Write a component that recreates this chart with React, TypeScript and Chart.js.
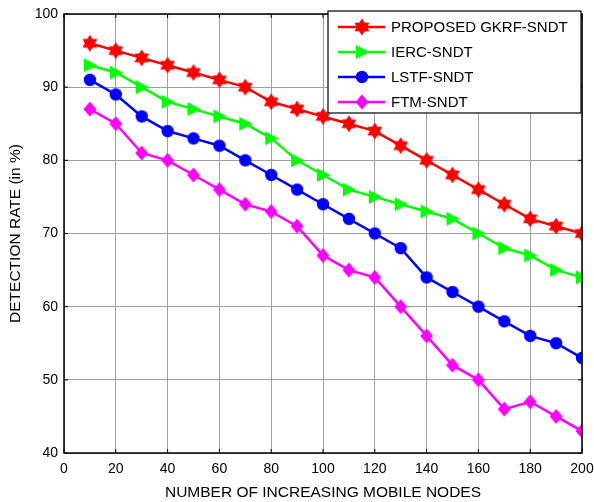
import React, { useEffect, useRef } from "react";
import { Chart, registerables } from "chart.js";

Chart.register(...registerables);

const nodes = [10, 20, 30, 40, 50, 60, 70, 80, 90, 100, 110, 120, 130, 140, 150, 160, 170, 180, 190, 200];
const gkrf = [96, 95, 94, 93, 92, 91, 90, 88, 87, 86, 85, 84, 82, 80, 78, 76, 74, 72, 71, 70];
const ierc = [93, 92, 90, 88, 87, 86, 85, 83, 80, 78, 76, 75, 74, 73, 72, 70, 68, 67, 65, 64];
const lstf = [91, 89, 86, 84, 83, 82, 80, 78, 76, 74, 72, 70, 68, 64, 62, 60, 58, 56, 55, 53];
const ftm = [87, 85, 81, 80, 78, 76, 74, 73, 71, 67, 65, 64, 60, 56, 52, 50, 46, 47, 45, 43];
const seriesNames = ["PROPOSED GKRF-SNDT", "IERC-SNDT", "LSTF-SNDT", "FTM-SNDT"];
const seriesColors = ["#ff0000", "#00ff00", "#0000ff", "#ff00ff"];
const seriesShapes = ["hexagram", "triangle", "circle", "diamond"];
const xTitle = "NUMBER OF INCREASING MOBILE NODES";
const yTitle = "DETECTION RATE (in %)";

const FONT = "'Liberation Sans', Arial, sans-serif";

function makeMarker(shape: string, color: string): HTMLCanvasElement {
  const s = 18;
  const c = document.createElement("canvas");
  c.width = s;
  c.height = s;
  const ctx = c.getContext("2d")!;
  ctx.fillStyle = color;
  const cx = s / 2, cy = s / 2;
  ctx.beginPath();
  if (shape === "hexagram") {
    const R = 8.5, r = R / Math.sqrt(3) * 1.05;
    for (let i = 0; i < 12; i++) {
      const a = -Math.PI / 2 + (i * Math.PI) / 6;
      const rr = i % 2 === 0 ? R : r;
      const px = cx + rr * Math.cos(a), py = cy + rr * Math.sin(a);
      if (i === 0) ctx.moveTo(px, py); else ctx.lineTo(px, py);
    }
  } else if (shape === "triangle") {
    ctx.moveTo(cx - 6, cy - 7);
    ctx.lineTo(cx + 7.5, cy);
    ctx.lineTo(cx - 6, cy + 7);
  } else if (shape === "circle") {
    ctx.arc(cx, cy, 6.2, 0, Math.PI * 2);
  } else {
    ctx.moveTo(cx, cy - 7.5);
    ctx.lineTo(cx + 6.5, cy);
    ctx.lineTo(cx, cy + 7.5);
    ctx.lineTo(cx - 6.5, cy);
  }
  ctx.closePath();
  ctx.fill();
  return c;
}

export default function App() {
  const ref = useRef<HTMLCanvasElement>(null);
  useEffect(() => {
    document.body.style.margin = "0";
    const markers = seriesShapes.map((s, i) => makeMarker(s, seriesColors[i]));
    const values = [gkrf, ierc, lstf, ftm];
    const datasets = values.map((vals, i) => ({
      label: seriesNames[i],
      data: vals.map((v, j) => ({ x: nodes[j], y: v })),
      borderColor: seriesColors[i],
      backgroundColor: seriesColors[i],
      borderWidth: 2.5,
      pointStyle: markers[i] as any,
      pointRadius: 7,
      tension: 0,
    }));

    const framePlugin = {
      id: "frame",
      afterDraw(chart: any) {
        const { ctx, chartArea: a } = chart;
        ctx.save();
        ctx.strokeStyle = "#000";
        ctx.lineWidth = 1.5;
        ctx.strokeRect(a.left, a.top, a.right - a.left, a.bottom - a.top);
        // small inward ticks
        ctx.lineWidth = 1;
        const xs = chart.scales.x, ys = chart.scales.y;
        for (let v = 0; v <= 200; v += 20) {
          const px = xs.getPixelForValue(v);
          ctx.beginPath();
          ctx.moveTo(px, a.bottom); ctx.lineTo(px, a.bottom - 4);
          ctx.moveTo(px, a.top); ctx.lineTo(px, a.top + 4);
          ctx.stroke();
        }
        for (let v = 40; v <= 100; v += 10) {
          const py = ys.getPixelForValue(v);
          ctx.beginPath();
          ctx.moveTo(a.left, py); ctx.lineTo(a.left + 4, py);
          ctx.moveTo(a.right, py); ctx.lineTo(a.right - 4, py);
          ctx.stroke();
        }
        // legend
        const lx = 328, ly = 11, lw = 253, lh = 102;
        ctx.fillStyle = "#fff";
        ctx.fillRect(lx, ly, lw, lh);
        ctx.lineWidth = 1.2;
        ctx.strokeStyle = "#000";
        ctx.strokeRect(lx, ly, lw, lh);
        ctx.font = `15px ${FONT}`;
        ctx.textBaseline = "middle";
        chart.data.datasets.forEach((d: any, i: number) => {
          const y = 27 + i * 25;
          ctx.strokeStyle = d.borderColor;
          ctx.lineWidth = 2.5;
          ctx.beginPath();
          ctx.moveTo(338, y);
          ctx.lineTo(385, y);
          ctx.stroke();
          const m = markers[i];
          ctx.drawImage(m, 362 - m.width / 2, y - m.height / 2);
          ctx.fillStyle = "#000";
          ctx.fillText(d.label, 391, y + 1);
        });
        ctx.restore();
      },
    };

    const chart = new Chart(ref.current!, {
      type: "line",
      data: { datasets },
      options: {
        animation: false,
        responsive: false,
        maintainAspectRatio: false,
        layout: { padding: { top: 14, right: 12, left: 0, bottom: 0 } },
        plugins: { legend: { display: false }, tooltip: { enabled: false } },
        scales: {
          x: {
            type: "linear",
            min: 0,
            max: 200,
            ticks: { stepSize: 20, color: "#000", font: { family: FONT, size: 14 }, padding: 8, maxRotation: 0 },
            grid: { color: "#a0a0a0", drawTicks: false, lineWidth: 1 },
            border: { display: false },
            title: { display: true, text: xTitle, color: "#000", font: { family: FONT, size: 15.5 }, padding: { top: 1, bottom: 0 } },
            afterFit: (s: any) => { s.height = 49; s.paddingLeft = 0; s.paddingRight = 0; },
          },
          y: {
            min: 40,
            max: 100,
            ticks: { stepSize: 10, color: "#000", font: { family: FONT, size: 14 }, padding: 6 },
            grid: { color: "#a0a0a0", drawTicks: false, lineWidth: 1 },
            border: { display: false },
            title: { display: true, text: yTitle, color: "#000", font: { family: FONT, size: 15.5 }, padding: { top: 6, bottom: 4 } },
            afterFit: (s: any) => { s.width = 64; s.paddingTop = 0; s.paddingBottom = 0; },
          },
        },
      },
      plugins: [framePlugin],
    });
    return () => chart.destroy();
  }, []);
  return (
    <div style={{ position: "absolute", left: 0, top: 0, width: 594, height: 502, background: "#fff" }}>
      <canvas ref={ref} width={594} height={502} style={{ width: 594, height: 502 }} />
    </div>
  );
}
